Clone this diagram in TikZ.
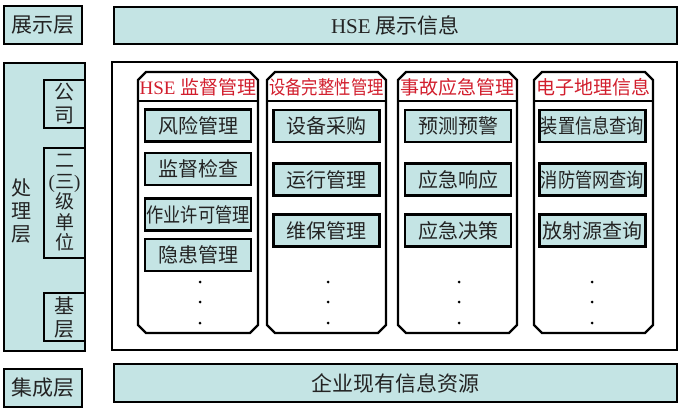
\documentclass[tikz,border=0pt]{standalone}
\usepackage{fontspec}
\usepackage{graphicx}
\setmainfont{Liberation Serif}
\newfontfamily\cjk{Noto Sans CJK SC}
\definecolor{boxcol}{RGB}{196,228,228}
\definecolor{titlered}{RGB}{210,30,45}
\definecolor{txt}{RGB}{35,35,35}
\tikzset{
  cell/.style={draw=black, line width=2.5pt, fill=boxcol, inner sep=0pt, text=txt},
  framebox/.style={draw=black, line width=2.5pt, fill=white, inner sep=0pt},
  colline/.style={draw=black, line width=2.3pt, fill=white, line join=miter},
  coltitle/.style={text=titlered, inner sep=0pt, font=\fontsize{19}{21}\selectfont},
  subbox/.style={cell, minimum width=106pt, minimum height=32pt, font=\cjk\fontsize{20}{22}\selectfont},
  layer/.style={cell, font=\cjk\fontsize{21}{23}\selectfont},
  dotm/.style={circle, fill=black, inner sep=0pt, minimum size=3pt},
}
\newcommand{\nrw}[2]{\scalebox{#1}[1]{#2}}
% chamfered column: name, x1, y1, x2, y2
\newcommand{\colshape}[5]{%
  \path[colline] (#2+8,#3) -- (#4-8,#3) -- (#4,#3+8) -- (#4,#5-8) -- (#4-8,#5)
     -- (#2+8,#5) -- (#2,#5-8) -- (#2,#3+8) -- cycle;
  \coordinate (#1l) at (#2,101);
  \coordinate (#1r) at (#4,101);
  \draw[line width=2.3pt] (#1l) -- (#1r);
}
\begin{document}
\begin{tikzpicture}[x=1pt, y=-1pt]
\useasboundingbox (0,0) rectangle (686,412);

% top layer
\node[layer, minimum width=78pt, minimum height=38pt] (show) at (43,25) {展示层};
\node[cell, minimum width=563pt, minimum height=37pt, font=\fontsize{21}{23}\selectfont] (showmain) at (395.5,25.5) {HSE {\cjk 展示信息}};

% processing layer
\node[cell, minimum width=81pt, minimum height=288pt] (proc) at (44.5,207) {};
\node[inner sep=0pt, text=txt, align=center, font=\cjk\fontsize{20}{23}\selectfont] (proclabel) at (22,211) {处\\理\\层};
\node[cell, minimum width=41pt, minimum height=48pt, align=center, font=\cjk\fontsize{20}{23}\selectfont] (company) at (64.5,104) {公\\司};
\node[cell, minimum width=41pt, minimum height=110pt, align=center, font=\cjk\fontsize{19}{20.5}\selectfont] (unit) at (64.5,203) {二\\{\rmfamily(}三{\rmfamily)}\\级\\单\\位};
\node[cell, minimum width=41pt, minimum height=48pt, align=center, font=\cjk\fontsize{20}{23}\selectfont] (base) at (64.5,317) {基\\层};

\node[framebox, minimum width=565pt, minimum height=288pt] (frame) at (394.5,206) {};

% columns
\colshape{col1}{138}{72}{258}{333}
\colshape{col2}{267}{72}{386}{333}
\colshape{col3}{398}{72}{517}{333}
\colshape{col4}{534}{72}{653}{333}

\node[coltitle] (t1) at (198,87) {HSE {\cjk 监督管理}};
\node[coltitle] (t2) at (326.5,87) {\cjk\nrw{0.86}{设备完整性管理}};
\node[coltitle] (t3) at (457.5,87) {\cjk 事故应急管理};
\node[coltitle] (t4) at (593.5,87) {\cjk 电子地理信息};

% column 1
\node[subbox] (a1) at (198,125.5) {风险管理};
\node[subbox] (a2) at (198,169) {监督检查};
\node[subbox] (a3) at (198,214.5) {\nrw{0.86}{作业许可管理}};
\node[subbox] (a4) at (198,255) {隐患管理};
% column 2
\node[subbox] (b1) at (326.5,126) {设备采购};
\node[subbox] (b2) at (326.5,179.5) {运行管理};
\node[subbox] (b3) at (326.5,230.5) {维保管理};
% column 3
\node[subbox] (c1) at (458,126) {预测预警};
\node[subbox] (c2) at (458,179.5) {应急响应};
\node[subbox] (c3) at (458,230.5) {应急决策};
% column 4
\node[subbox] (d1) at (592.5,126) {\nrw{0.86}{装置信息查询}};
\node[subbox] (d2) at (592.5,179.5) {\nrw{0.86}{消防管网查询}};
\node[subbox] (d3) at (592.5,230.5) {放射源查询};

% dots
\foreach \x/\n in {200/p,328/q,459/r,592/s}{
  \node[dotm] (\n1) at (\x,282) {};
  \node[dotm] (\n2) at (\x,302) {};
  \node[dotm] (\n3) at (\x,323) {};
}

% bottom layer
\node[layer, minimum width=78pt, minimum height=38pt] (integ) at (43,388) {集成层};
\node[layer, minimum width=563pt, minimum height=38pt] (intmain) at (395.5,383) {企业现有信息资源};
\end{tikzpicture}
\end{document}
